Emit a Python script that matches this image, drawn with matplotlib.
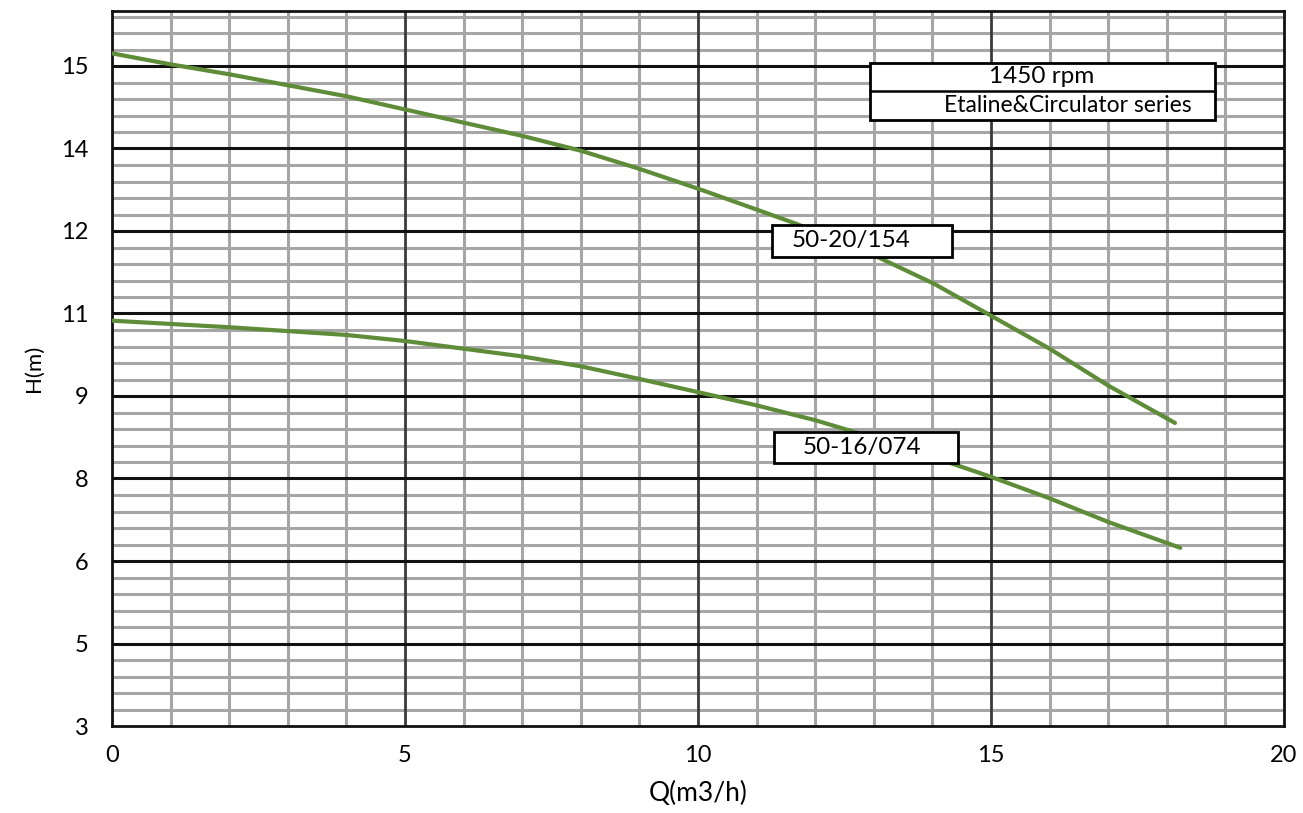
import matplotlib
matplotlib.use("Agg")
import matplotlib.pyplot as plt
from matplotlib.patches import Rectangle
import numpy as np

plt.rcParams['font.family'] = ['Lato', 'DejaVu Sans']

# ---- data ----
q_154 = [0, 1, 2, 3, 4, 5, 6, 7, 8, 9, 10, 11, 11.68, 13.02, 14.03, 15, 16, 17, 18.14]
h_154 = [15.23, 15.03, 14.85, 14.65, 14.45, 14.21, 13.97, 13.73, 13.46, 13.13,
         12.77, 12.39, 12.13, 11.55, 11.04, 10.46, 9.86, 9.19, 8.51]

q_074 = [0, 1, 2, 3, 4, 5, 6, 7, 8, 9, 10, 11, 12, 13, 14.2, 15, 16, 17, 18.23]
h_074 = [10.37, 10.31, 10.25, 10.18, 10.11, 10.0, 9.86, 9.72, 9.54, 9.31,
         9.07, 8.83, 8.56, 8.24, 7.82, 7.53, 7.14, 6.71, 6.24]

x_major = [0, 5, 10, 15, 20]
x_labels = ['0', '5', '10', '15', '20']
y_major = [3, 4.5, 6, 7.5, 9, 10.5, 12, 13.5, 15]
y_labels = ['3', '5', '6', '8', '9', '11', '12', '14', '15']

series_names = ['50-20/154', '50-16/074']
header_lines = ['1450 rpm', 'Etaline&Circulator series']

# ---- figure ----
fig = plt.figure(figsize=(13.03, 8.13), dpi=100)
ax = fig.add_axes([112 / 1303, 1 - 726 / 813, (1284 - 112) / 1303, (726 - 11) / 813])

ax.set_xlim(0, 20)
ax.set_ylim(3, 16)

ax.set_xticks(x_major)
ax.set_xticklabels(x_labels)
ax.set_xticks(np.arange(0, 20.01, 1), minor=True)
ax.set_yticks(y_major)
ax.set_yticklabels(y_labels)
ax.set_yticks(np.arange(3, 16.01, 0.3), minor=True)

ax.tick_params(which='both', length=0)
ax.tick_params(axis='x', pad=14, labelsize=17)
ax.tick_params(axis='y', pad=17, labelsize=17)

ax.set_axisbelow(True)
ax.grid(which='minor', color='#a6a6a6', linewidth=2.2)
for xv in x_major[1:-1]:
    ax.axvline(xv, color='#3a3a3a', linewidth=2.0, zorder=1)
for yv in y_major[1:]:
    ax.axhline(yv, color='#111111', linewidth=2.2, zorder=1.1)

for s in ax.spines.values():
    s.set_color('#111111')
    s.set_linewidth(2.0)
    s.set_zorder(2)

green = '#5E8C38'
ax.plot(q_154, h_154, color=green, linewidth=3.0, solid_capstyle='round', zorder=3)
ax.plot(q_074, h_074, color=green, linewidth=3.0, solid_capstyle='round', zorder=3)

# header box (two rows)
bx0, bx1, by0, by1, bmid = 12.935, 18.82, 14.02, 15.05, 14.55
ax.add_patch(Rectangle((bx0, by0), bx1 - bx0, by1 - by0, facecolor='white',
                       edgecolor='black', linewidth=2.0, zorder=5))
ax.plot([bx0, bx1], [bmid, bmid], color='black', linewidth=1.8, zorder=6)
ax.text(15.87, 14.80, header_lines[0], ha='center', va='center', fontsize=17.5, zorder=7)
ax.text(16.31, 14.28, header_lines[1], ha='center', va='center', fontsize=16.5, zorder=7)

# series label boxes
label_boxes = [(11.26, 11.53, 14.33, 12.11, 12.61, 11.83),
               (11.30, 7.78, 14.44, 8.34, 12.80, 8.07)]
for name, (x0, y0, x1, y1, tx, ty) in zip(series_names, label_boxes):
    ax.add_patch(Rectangle((x0, y0), x1 - x0, y1 - y0, facecolor='white',
                           edgecolor='black', linewidth=2.0, zorder=5))
    ax.text(tx, ty, name, ha='center', va='center', fontsize=17.5, zorder=7)

ax.set_xlabel('Q(m3/h)', fontsize=19)
ax.xaxis.set_label_coords(0.5, -0.077)
ax.set_ylabel('H(m)', fontsize=16)
ax.yaxis.set_label_coords(-0.058, 0.5)

fig.savefig('out.png', dpi=100)
